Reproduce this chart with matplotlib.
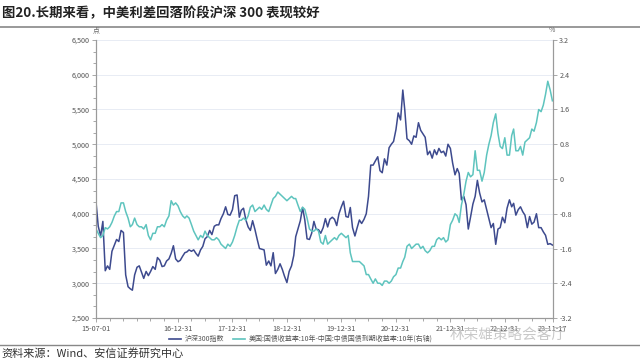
import matplotlib
matplotlib.use("Agg")
import matplotlib.pyplot as plt
from matplotlib.lines import Line2D
from matplotlib.ticker import MultipleLocator, FuncFormatter, AutoMinorLocator
import pandas as pd

plt.rcParams['font.family'] = ['Noto Sans CJK SC', 'DejaVu Sans']
plt.rcParams['axes.unicode_minus'] = False

# semi-monthly observations (1st and 16th), 2015-07 .. 2023-11
months = pd.date_range('2015-07-01', '2023-11-01', freq='MS')
dates = sorted(list(months) + list(months + pd.Timedelta(days=15)))

csi300 = [
    # 2015 H2
    4170, 3820, 3680, 3890, 3180, 3250, 3200, 3460, 3550, 3630, 3600, 3760,
    # 2016
    3730, 3120, 2950, 2920, 2900, 3120, 3230, 3250, 3160, 3070, 3170, 3110,
    3170, 3240, 3200, 3370, 3330, 3240, 3250, 3320, 3350, 3430, 3540, 3350,
    # 2017
    3310, 3330, 3390, 3440, 3450, 3480, 3460, 3480, 3430, 3390, 3480, 3530,
    3640, 3670, 3760, 3700, 3820, 3840, 3840, 3930, 4000, 4100, 3990, 3980,
    # 2018
    4060, 4260, 4270, 3950, 4050, 4080, 3910, 3810, 3760, 3900, 3770, 3630,
    3500, 3490, 3480, 3260, 3320, 3250, 3440, 3140, 3200, 3280, 3200, 3100,
    # 2019
    3010, 3170, 3250, 3400, 3670, 3780, 3900, 4090, 3910, 3640, 3630, 3720,
    3890, 3780, 3770, 3720, 3800, 3930, 3810, 3920, 3950, 3920, 3830, 4000,
    # 2020
    4100, 4180, 3960, 3950, 4090, 3800, 3680, 3800, 3910, 3860, 3920, 4000,
    4250, 4700, 4700, 4760, 4820, 4620, 4590, 4790, 4700, 4950, 5000, 5040,
    # 2021
    5210, 5450, 5350, 5780, 5500, 5080, 5050, 5000, 5120, 5100, 5310, 5200,
    5150, 5100, 4850, 4900, 4800, 4920, 4850, 4940, 4880, 4900, 4830, 5000,
    # 2022
    4940, 4730, 4560, 4650, 4580, 4200, 4250, 4130, 3780, 3950, 4140, 4250,
    4480, 4300, 4170, 4200, 4060, 3930, 3800, 3860, 3560, 3780, 3800, 3950,
    # 2023
    3870, 4080, 4200, 4100, 4150, 3980, 4060, 4100, 4030, 3980, 3800, 3960,
    3850, 3880, 4000, 3800, 3800, 3740, 3690, 3560, 3570, 3550,
]

spread = [
    # 2015 H2
    -1.15, -1.25, -1.35, -1.30, -1.12, -1.15, -1.10, -1.00, -0.85, -0.75, -0.75, -0.55,
    # 2016
    -0.55, -0.75, -0.90, -1.10, -1.05, -0.90, -1.05, -1.10, -1.10, -1.15, -1.05, -1.30,
    -1.40, -1.25, -1.25, -1.10, -1.10, -1.05, -1.10, -0.95, -0.85, -0.50, -0.60, -0.55,
    # 2017
    -0.62, -0.75, -0.85, -0.90, -0.85, -0.90, -1.05, -1.20, -1.30, -1.40, -1.30, -1.35,
    -1.20, -1.30, -1.35, -1.40, -1.40, -1.35, -1.40, -1.50, -1.55, -1.60, -1.50, -1.55,
    # 2018
    -1.45, -1.30, -1.10, -0.95, -0.95, -0.90, -0.95, -0.85, -0.65, -0.60, -0.75, -0.70,
    -0.65, -0.70, -0.60, -0.70, -0.75, -0.60, -0.45, -0.40, -0.30, -0.35, -0.40, -0.45,
    # 2019
    -0.50, -0.45, -0.40, -0.45, -0.45, -0.60, -0.75, -0.65, -0.70, -0.90, -1.15, -1.20,
    -1.20, -1.15, -1.20, -1.45, -1.50, -1.30, -1.50, -1.45, -1.40, -1.35, -1.40, -1.30,
    # 2020
    -1.25, -1.30, -1.35, -1.30, -1.70, -1.90, -1.90, -1.90, -1.90, -1.95, -2.00, -2.20,
    -2.20, -2.30, -2.40, -2.30, -2.40, -2.40, -2.45, -2.35, -2.35, -2.40, -2.35, -2.25,
    # 2021
    -2.20, -2.05, -2.05, -1.90, -1.80, -1.55, -1.50, -1.60, -1.55, -1.50, -1.50, -1.60,
    -1.55, -1.65, -1.70, -1.65, -1.55, -1.55, -1.40, -1.35, -1.40, -1.35, -1.45, -1.40,
    # 2022
    -1.05, -0.95, -0.80, -0.85, -1.00, -0.60, -0.35, -0.05, 0.15, 0.05, 0.10, 0.65,
    0.20, 0.20, -0.05, 0.15, 0.55, 0.80, 1.00, 1.30, 1.50, 1.05, 0.75, 0.70,
    # 2023
    0.95, 0.55, 0.55, 1.00, 1.15, 0.65, 0.65, 0.75, 0.55, 0.85, 0.90, 0.95,
    1.15, 1.10, 1.30, 1.60, 1.55, 1.70, 1.95, 2.25, 2.05, 1.80,
]

tick_dates = ['2015-07-01', '2016-12-31', '2017-12-31', '2018-12-31', '2019-12-31',
              '2020-12-31', '2021-12-31', '2022-12-31', '2023-11-17']
labels = ['沪深300指数', '美国:国债收益率:10年-中国:中债国债到期收益率:10年(右轴)']

navy = '#3d4a8e'
teal = '#5ec4be'
gray = '#9a9a9a'

fig = plt.figure(figsize=(6.4, 3.6), dpi=100)
ax = fig.add_axes([96 / 640, 1 - 318 / 360, (553 - 96) / 640, 278 / 360])
ax2 = ax.twinx()

ax.plot(dates, csi300, color=navy, lw=1.1, zorder=3)
ax2.plot(dates, spread, color=teal, lw=1.1, zorder=2)

ax.set_ylim(2500, 6500)
ax.yaxis.set_major_locator(MultipleLocator(500))
ax.yaxis.set_minor_locator(AutoMinorLocator(3))
ax.yaxis.set_major_formatter(FuncFormatter(lambda v, p: f'{v:,.0f}'))
ax2.set_ylim(-3.2, 3.2)
ax2.yaxis.set_major_locator(MultipleLocator(0.8))
ax2.yaxis.set_major_formatter(FuncFormatter(lambda v, p: '0' if abs(v) < 1e-9 else f'{v:.1f}'))

ax.set_xlim(pd.Timestamp('2015-07-01'), pd.Timestamp('2023-11-20'))
ax.set_xticks([pd.Timestamp(d) for d in tick_dates])
ax.set_xticklabels([pd.Timestamp(d).strftime('%y-%m-%d') for d in tick_dates])
ax.set_xticks(pd.date_range('2015-09-30', '2023-09-30', freq='QE'), minor=True)

ax.grid(axis='y', color='#e8ecf4', lw=0.7)
ax.set_axisbelow(True)

for a in (ax, ax2):
    a.spines['top'].set_visible(False)
    for s in ('left', 'right', 'bottom'):
        a.spines[s].set_color(gray)
        a.spines[s].set_linewidth(0.8)
    a.tick_params(which='both', colors=gray, labelcolor='#555555', labelsize=5.2,
                  width=0.6)
    a.tick_params(which='major', length=3)
    a.tick_params(which='minor', length=2)
ax.tick_params(axis='x', pad=2)
ax.tick_params(axis='y', pad=1.5)
ax2.tick_params(axis='y', pad=1.5)

fig.text(96 / 640, 1 - 30 / 360, '点', fontsize=5, color='#666666', ha='center', va='center')
fig.text(552 / 640, 1 - 30 / 360, '%', fontsize=5, color='#666666', ha='center', va='center')

# title and rules
fig.text(0.003, 1 - 13 / 360, '图20.长期来看，中美利差回落阶段沪深 300 表现较好',
         fontsize=9.6, fontweight='bold', color='#222222', ha='left', va='center')
fig.add_artist(Line2D([0, 1], [1 - 27 / 360, 1 - 27 / 360], color='#888888', lw=1.2))
fig.add_artist(Line2D([0, 1], [1 - 345 / 360, 1 - 345 / 360], color='#888888', lw=1.0))
fig.text(0.003, 1 - 353 / 360, '资料来源：Wind、安信证券研究中心', fontsize=8,
         color='#333333', ha='left', va='center')

handles = [Line2D([], [], color=navy, lw=1.2), Line2D([], [], color=teal, lw=1.2)]
fig.legend(handles, labels, loc='center', bbox_to_anchor=(0.47, 1 - 339 / 360),
           ncol=2, frameon=False, fontsize=5, handlelength=1.8, columnspacing=1.2,
           handletextpad=0.5, labelcolor='#555555')

# watermark
fig.text(450 / 640, 1 - 335 / 360, '林荣雄策略会客厅', fontsize=10.5, color='#bbbbbb',
         alpha=0.8, ha='left', va='center')

fig.savefig('out.png', dpi=100)
